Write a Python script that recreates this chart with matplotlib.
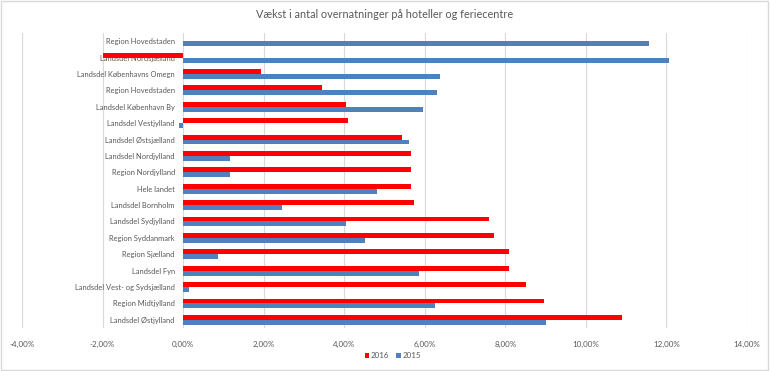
import matplotlib.pyplot as plt
import matplotlib.patches as patches
from matplotlib.ticker import FuncFormatter
import numpy as np

categories = [
    "Region Hovedstaden",
    "Landsdel Nordsjælland",
    "Landsdel Københavns Omegn",
    "Region Hovedstaden",
    "Landsdel København By",
    "Landsdel Vestjylland",
    "Landsdel Østsjælland",
    "Landsdel Nordjylland",
    "Region Nordjylland",
    "Hele landet",
    "Landsdel Bornholm",
    "Landsdel Sydjylland",
    "Region Syddanmark",
    "Region Sjælland",
    "Landsdel Fyn",
    "Landsdel Vest- og Sydsjælland",
    "Region Midtjylland",
    "Landsdel Østjylland",
]
# percent growth
vals_2016 = [0.0, -2.0, 1.94, 3.45, 4.04, 4.09, 5.43, 5.66, 5.66, 5.66,
             5.74, 7.60, 7.72, 8.09, 8.10, 8.51, 8.96, 10.89]
vals_2015 = [11.56, 12.06, 6.38, 6.30, 5.96, -0.10, 5.60, 1.16, 1.16, 4.82,
             2.45, 4.04, 4.51, 0.87, 5.86, 0.15, 6.25, 9.00]

red = "#ff0000"
blue = "#4f81bd"
grey_txt = "#595959"

plt.rcParams['font.family'] = ['Lato', 'DejaVu Sans']

fig = plt.figure(figsize=(7.7, 3.71), dpi=100)
ax = fig.add_axes([22 / 770, 1 - 328 / 371, 725 / 770, 295 / 371])

y = np.arange(len(categories))
h = 0.3
ax.barh(y - h / 2, vals_2016, height=h, color=red, label="2016", zorder=3)
ax.barh(y + h / 2, vals_2015, height=h, color=blue, label="2015", zorder=3)

ax.set_ylim(len(categories) - 0.5, -0.5)
ax.set_xlim(-4, 14)
ax.set_xticks(np.arange(-4, 15, 2))
ax.xaxis.set_major_formatter(FuncFormatter(lambda v, p: f"{v:.2f}%".replace(".", ",")))
ax.grid(axis="x", color="#d9d9d9", linewidth=0.8, zorder=0)

ax.set_yticks(y)
ax.set_yticklabels(categories)
ax.spines['left'].set_position(('data', 0))
for s in ax.spines.values():
    s.set_visible(False)
ax.tick_params(axis="both", length=0, colors=grey_txt)
ax.tick_params(axis="y", pad=6, labelsize=5.4)
ax.tick_params(axis="x", pad=9, labelsize=5.8)

fig.text(0.5, 1 - 14 / 371, "Vækst i antal overnatninger på hoteller og feriecentre",
         ha="center", va="center", fontsize=7.8, color=grey_txt)

leg = fig.legend(loc="center", bbox_to_anchor=(0.51, 1 - 356 / 371), ncol=2, frameon=False,
                 fontsize=5.8, handlelength=0.6, handleheight=0.6, handletextpad=0.2,
                 columnspacing=0.8)
for t in leg.get_texts():
    t.set_color(grey_txt)

fig.patches.append(patches.Rectangle((0.001, 0.002), 0.997, 0.995, transform=fig.transFigure,
                                     fill=False, edgecolor="#d9d9d9", linewidth=1))

fig.savefig("out.png", dpi=100)
